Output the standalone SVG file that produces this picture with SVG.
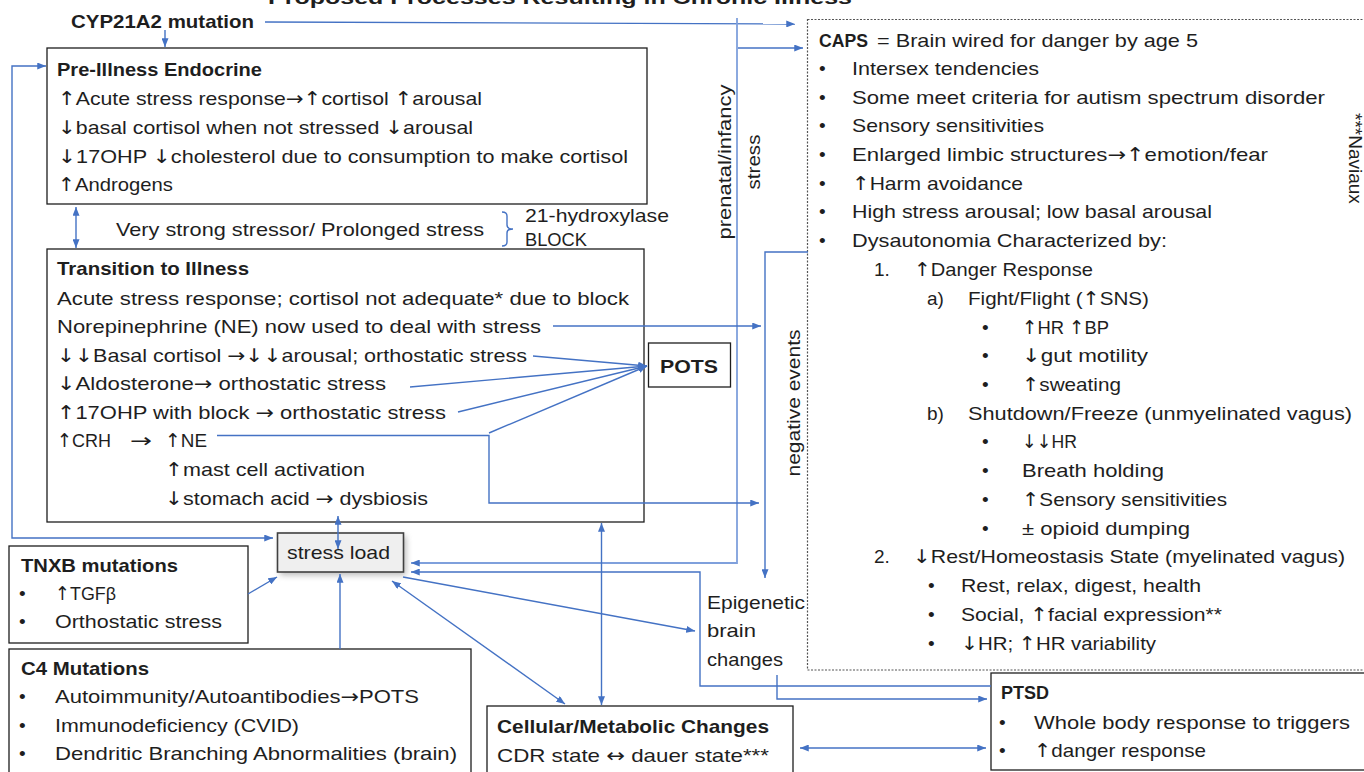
<svg xmlns="http://www.w3.org/2000/svg" width="1364" height="772" viewBox="0 0 1364 772">
<style>
text{font-family:"Liberation Sans",Arial,sans-serif;font-size:19px;fill:#1e1e1e}
.b{font-weight:bold}
.a{font-family:"DejaVu Sans",sans-serif;font-weight:normal}
.box{fill:#fff;stroke:#1e1e1e;stroke-width:1.3}
.c{fill:none;stroke:#4472C4;stroke-width:1.4}
.cl{fill:none;stroke:#7FA0DC;stroke-width:1.8}
</style>
<defs>
<marker id="ah" viewBox="0 0 10 8" refX="10" refY="4" markerWidth="9" markerHeight="7" markerUnits="userSpaceOnUse" orient="auto-start-reverse"><path d="M0,0 L10,4 L0,8 z" fill="#4472C4"/></marker>
<filter id="sh" x="-30%" y="-50%" width="160%" height="200%"><feGaussianBlur stdDeviation="3"/></filter>
</defs>

<text class="b" x="268" y="4" font-size="26" textLength="584" lengthAdjust="spacingAndGlyphs">Proposed Processes Resulting in Chronic Illness</text>

<g id="cyp"><text class="b" x="71" y="28" textLength="183" lengthAdjust="spacingAndGlyphs">CYP21A2 mutation</text></g>

<g id="caps">
<rect x="807.5" y="19.5" width="570" height="650.5" fill="none" stroke="#555" stroke-width="1.2" stroke-dasharray="2,1.5"/>
<text class="b" x="819" y="46.5" textLength="49" lengthAdjust="spacingAndGlyphs">CAPS</text>
<text x="877" y="46.5" textLength="321" lengthAdjust="spacingAndGlyphs">= Brain wired for danger by age 5</text>
<text x="819" y="75">•</text><text x="852" y="75" textLength="187" lengthAdjust="spacingAndGlyphs">Intersex tendencies</text>
<text x="819" y="104">•</text><text x="852" y="104" textLength="473" lengthAdjust="spacingAndGlyphs">Some meet criteria for autism spectrum disorder</text>
<text x="819" y="132">•</text><text x="852" y="132" textLength="192" lengthAdjust="spacingAndGlyphs">Sensory sensitivities</text>
<text x="819" y="161">•</text><text x="852" y="161" textLength="416" lengthAdjust="spacingAndGlyphs">Enlarged limbic structures<tspan class="a">→↑</tspan>emotion/fear</text>
<text x="819" y="190">•</text><text x="852" y="190" textLength="171" lengthAdjust="spacingAndGlyphs"><tspan class="a">↑</tspan>Harm avoidance</text>
<text x="819" y="218">•</text><text x="852" y="218" textLength="360" lengthAdjust="spacingAndGlyphs">High stress arousal; low basal arousal</text>
<text x="819" y="247">•</text><text x="852" y="247" textLength="315" lengthAdjust="spacingAndGlyphs">Dysautonomia Characterized by:</text>
<text x="874" y="276">1.</text><text x="914" y="276" textLength="179" lengthAdjust="spacingAndGlyphs"><tspan class="a">↑</tspan>Danger Response</text>
<text x="927" y="305">a)</text><text x="968" y="305" textLength="181" lengthAdjust="spacingAndGlyphs">Fight/Flight (<tspan class="a">↑</tspan>SNS)</text>
<text x="982" y="334">•</text><text x="1022" y="334" textLength="87" lengthAdjust="spacingAndGlyphs"><tspan class="a">↑</tspan>HR <tspan class="a">↑</tspan>BP</text>
<text x="982" y="362">•</text><text x="1022" y="362" textLength="126" lengthAdjust="spacingAndGlyphs"><tspan class="a">↓</tspan>gut motility</text>
<text x="982" y="391">•</text><text x="1022" y="391" textLength="99" lengthAdjust="spacingAndGlyphs"><tspan class="a">↑</tspan>sweating</text>
<text x="927" y="420">b)</text><text x="968" y="420" textLength="384" lengthAdjust="spacingAndGlyphs">Shutdown/Freeze  (unmyelinated vagus)</text>
<text x="982" y="448">•</text><text x="1022" y="448" textLength="55" lengthAdjust="spacingAndGlyphs"><tspan class="a">↓↓</tspan>HR</text>
<text x="982" y="477">•</text><text x="1022" y="477" textLength="142" lengthAdjust="spacingAndGlyphs">Breath  holding</text>
<text x="982" y="506">•</text><text x="1022" y="506" textLength="205" lengthAdjust="spacingAndGlyphs"><tspan class="a">↑</tspan>Sensory sensitivities</text>
<text x="982" y="535">•</text><text x="1022" y="535" textLength="168" lengthAdjust="spacingAndGlyphs">± opioid dumping</text>
<text x="874" y="563">2.</text><text x="913" y="563" textLength="432" lengthAdjust="spacingAndGlyphs"><tspan class="a">↓</tspan>Rest/Homeostasis  State (myelinated vagus)</text>
<text x="928" y="592">•</text><text x="961" y="592" textLength="240" lengthAdjust="spacingAndGlyphs">Rest, relax, digest, health</text>
<text x="928" y="621">•</text><text x="961" y="621" textLength="261" lengthAdjust="spacingAndGlyphs">Social, <tspan class="a">↑</tspan>facial expression**</text>
<text x="928" y="650">•</text><text x="961" y="650" textLength="195" lengthAdjust="spacingAndGlyphs"><tspan class="a">↓</tspan>HR; <tspan class="a">↑</tspan>HR variability</text>
<text transform="translate(1349,113) rotate(90)" font-size="12">***Naviaux</text>
</g>

<g id="preillness">
<rect class="box" x="47" y="48" width="600" height="156"/>
<text class="b" x="57" y="76" textLength="205" lengthAdjust="spacingAndGlyphs">Pre-Illness Endocrine</text>
<text x="58" y="105" textLength="424" lengthAdjust="spacingAndGlyphs"><tspan class="a">↑</tspan>Acute stress response<tspan class="a">→↑</tspan>cortisol <tspan class="a">↑</tspan>arousal</text>
<text x="58" y="134" textLength="415" lengthAdjust="spacingAndGlyphs"><tspan class="a">↓</tspan>basal cortisol when not stressed <tspan class="a">↓</tspan>arousal</text>
<text x="58" y="163" textLength="570" lengthAdjust="spacingAndGlyphs"><tspan class="a">↓</tspan>17OHP <tspan class="a">↓</tspan>cholesterol due to consumption to make cortisol</text>
<text x="58" y="191" textLength="115" lengthAdjust="spacingAndGlyphs"><tspan class="a">↑</tspan>Androgens</text>
</g>

<g id="stressor">
<text x="116" y="236" textLength="368" lengthAdjust="spacingAndGlyphs">Very strong stressor/ Prolonged stress</text>
<path d="M502,212 Q507,212 507,216 V225 Q507,229 513,229 Q507,229 507,233 V242 Q507,246 502,246" fill="none" stroke="#4472C4" stroke-width="1.4"/>
<text x="525" y="222" textLength="144" lengthAdjust="spacingAndGlyphs">21-hydroxylase</text>
<text x="525" y="246" textLength="62" lengthAdjust="spacingAndGlyphs">BLOCK</text>
</g>

<g id="transition">
<rect class="box" x="47" y="249" width="597" height="273"/>
<text class="b" x="57" y="275" textLength="192" lengthAdjust="spacingAndGlyphs">Transition  to Illness</text>
<text x="57" y="305" textLength="572" lengthAdjust="spacingAndGlyphs">Acute stress response; cortisol not adequate* due to block</text>
<text x="57" y="333" textLength="484" lengthAdjust="spacingAndGlyphs">Norepinephrine  (NE) now used to deal with stress</text>
<text x="57" y="362" textLength="470" lengthAdjust="spacingAndGlyphs"><tspan class="a">↓↓</tspan>Basal cortisol <tspan class="a">→↓↓</tspan>arousal; orthostatic stress</text>
<text x="57" y="390" textLength="329" lengthAdjust="spacingAndGlyphs"><tspan class="a">↓</tspan>Aldosterone<tspan class="a">→</tspan> orthostatic stress</text>
<text x="57" y="419" textLength="389" lengthAdjust="spacingAndGlyphs"><tspan class="a">↑</tspan>17OHP with block <tspan class="a">→</tspan> orthostatic stress</text>
<text x="57" y="447" textLength="54" lengthAdjust="spacingAndGlyphs"><tspan class="a">↑</tspan>CRH</text>
<text class="a" x="130" y="447" textLength="22" lengthAdjust="spacingAndGlyphs">→</text>
<text x="165" y="447" textLength="42" lengthAdjust="spacingAndGlyphs"><tspan class="a">↑</tspan>NE</text>
<text x="165" y="476" textLength="200" lengthAdjust="spacingAndGlyphs"><tspan class="a">↑</tspan>mast cell activation</text>
<text x="165" y="505" textLength="263" lengthAdjust="spacingAndGlyphs"><tspan class="a">↓</tspan>stomach acid <tspan class="a">→</tspan> dysbiosis</text>
</g>

<g id="pots">
<rect class="box" x="648.5" y="343" width="82" height="44"/>
<text class="b" x="660" y="373" font-size="22" textLength="58" lengthAdjust="spacingAndGlyphs">POTS</text>
</g>

<g id="stressload">
<rect x="280" y="536" width="126" height="39" fill="#888" opacity="0.6" filter="url(#sh)"/>
<rect x="277.5" y="533" width="126" height="39" fill="#efefef" stroke="#404040" stroke-width="1.6"/>
<text x="287" y="559" textLength="103" lengthAdjust="spacingAndGlyphs">stress load</text>
</g>

<g id="tnxb">
<rect class="box" x="9" y="546" width="239" height="97"/>
<text class="b" x="21" y="572" textLength="157" lengthAdjust="spacingAndGlyphs">TNXB mutations</text>
<text x="19" y="600">•</text><text x="55" y="600" textLength="61" lengthAdjust="spacingAndGlyphs"><tspan class="a">↑</tspan>TGFβ</text>
<text x="19" y="628">•</text><text x="55" y="628" textLength="167" lengthAdjust="spacingAndGlyphs">Orthostatic stress</text>
</g>

<g id="c4">
<rect class="box" x="9" y="649" width="462" height="130"/>
<text class="b" x="21" y="675" textLength="128" lengthAdjust="spacingAndGlyphs">C4 Mutations</text>
<text x="19" y="703">•</text><text x="55" y="703" textLength="364" lengthAdjust="spacingAndGlyphs">Autoimmunity/Autoantibodies<tspan class="a">→</tspan>POTS</text>
<text x="19" y="732">•</text><text x="55" y="732" textLength="244" lengthAdjust="spacingAndGlyphs">Immunodeficiency (CVID)</text>
<text x="19" y="760">•</text><text x="55" y="760" textLength="402" lengthAdjust="spacingAndGlyphs">Dendritic Branching Abnormalities (brain)</text>
</g>

<g id="cellular">
<rect class="box" x="487" y="706" width="306" height="70"/>
<text class="b" x="497" y="733" textLength="272" lengthAdjust="spacingAndGlyphs">Cellular/Metabolic  Changes</text>
<text x="497" y="762" textLength="272" lengthAdjust="spacingAndGlyphs">CDR state <tspan class="a">↔</tspan> dauer state***</text>
</g>

<g id="epigenetic">
<text x="707" y="609" textLength="98" lengthAdjust="spacingAndGlyphs">Epigenetic</text>
<text x="707" y="637" textLength="49" lengthAdjust="spacingAndGlyphs">brain</text>
<text x="707" y="666" textLength="76" lengthAdjust="spacingAndGlyphs">changes</text>
</g>

<g id="ptsd">
<rect class="box" x="991" y="673" width="380" height="97"/>
<text class="b" x="1001" y="699" textLength="48" lengthAdjust="spacingAndGlyphs">PTSD</text>
<text x="999" y="729">•</text><text x="1034" y="729" textLength="316" lengthAdjust="spacingAndGlyphs">Whole body response  to triggers</text>
<text x="999" y="757">•</text><text x="1034" y="757" textLength="172" lengthAdjust="spacingAndGlyphs"><tspan class="a">↑</tspan>danger response</text>
</g>

<g id="labels">
<text transform="translate(731,162) rotate(-90)" text-anchor="middle" textLength="155" lengthAdjust="spacingAndGlyphs">prenatal/infancy</text>
<text transform="translate(760,162) rotate(-90)" text-anchor="middle" textLength="55" lengthAdjust="spacingAndGlyphs">stress</text>
<text transform="translate(800,403) rotate(-90)" text-anchor="middle" textLength="147" lengthAdjust="spacingAndGlyphs">negative events</text>
</g>

<g id="connectors">
<path class="c" d="M265,22 L795,24" marker-end="url(#ah)"/>
<path class="c" d="M165,30 V47" marker-end="url(#ah)"/>
<path class="cl" d="M737,18 V563 H411" marker-end="url(#ah)"/>
<path class="c" d="M738,48 H803" marker-end="url(#ah)"/>
<path class="c" d="M273,538 H12 V66 H46" marker-start="url(#ah)" marker-end="url(#ah)"/>
<path class="c" d="M76,207 V248" marker-start="url(#ah)" marker-end="url(#ah)"/>
<path class="c" d="M533,356 L647,366" marker-end="url(#ah)"/>
<path class="c" d="M410,387 L647,366" marker-end="url(#ah)"/>
<path class="c" d="M458,412 L647,366" marker-end="url(#ah)"/>
<path class="c" d="M489,433 L647,366" marker-end="url(#ah)"/>
<path class="c" d="M217,435.5 H489 V503 H759" marker-end="url(#ah)"/>
<path class="c" d="M553,326 H761" marker-end="url(#ah)"/>
<path class="c" d="M808,252 H765 V578" marker-end="url(#ah)"/>
<path class="c" d="M991,686 H700 V572 H411" marker-end="url(#ah)"/>
<path class="c" d="M777,675 V699 H987" marker-end="url(#ah)"/>
<path class="c" d="M403,577 L695,631" marker-end="url(#ah)"/>
<path class="c" d="M392,581 L565,704" marker-start="url(#ah)" marker-end="url(#ah)"/>
<path class="c" d="M601.5,523 V705" marker-start="url(#ah)" marker-end="url(#ah)"/>
<path class="c" d="M338,516 V549" marker-start="url(#ah)" marker-end="url(#ah)"/>
<path class="c" d="M340,649 V574" marker-end="url(#ah)"/>
<path class="c" d="M248,594 L277,577" marker-end="url(#ah)"/>
<path class="c" d="M800,748 H986" marker-start="url(#ah)" marker-end="url(#ah)"/>
</g>
</svg>
